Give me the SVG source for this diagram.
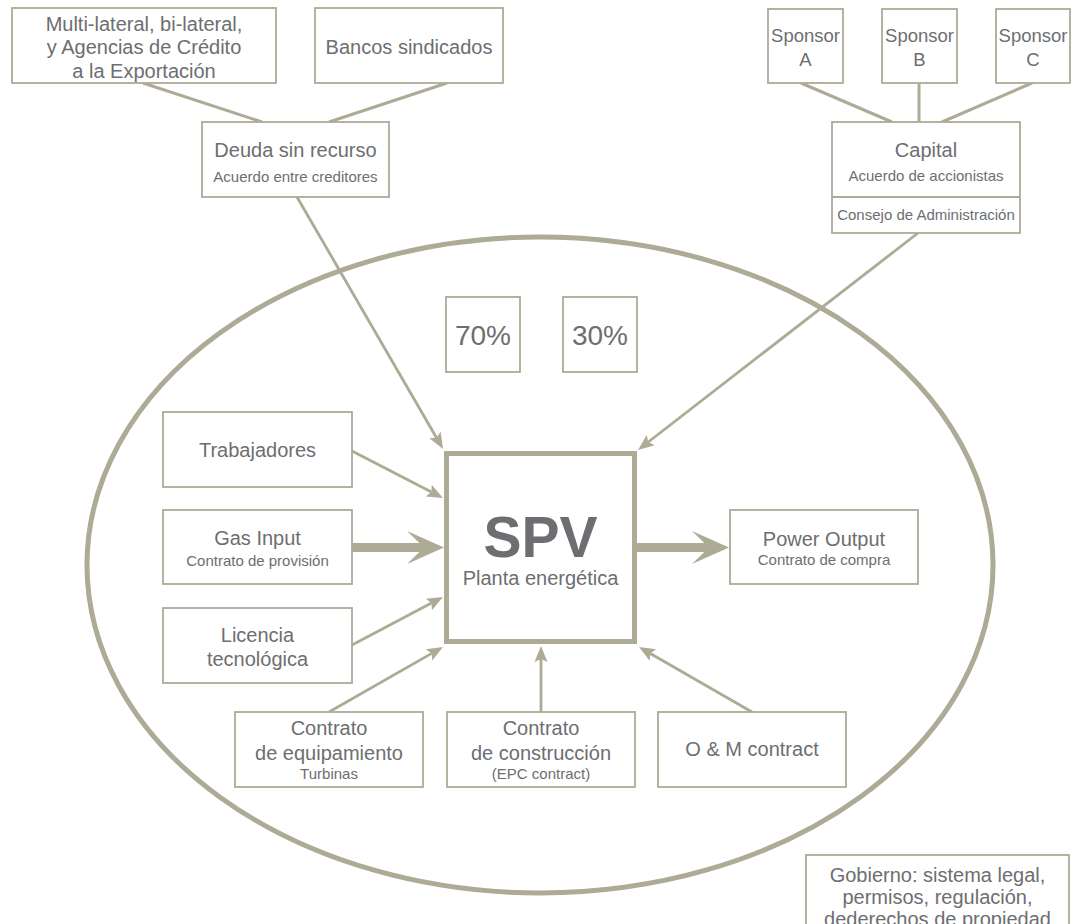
<svg xmlns="http://www.w3.org/2000/svg" width="1081" height="924" viewBox="0 0 1081 924">
<style>
.box{fill:#fff;stroke:#adaa95;stroke-width:1.8}
.t{font-family:"Liberation Sans",Arial,sans-serif;fill:#6d6e71;text-anchor:middle}
.l{font-size:20px}
.s{font-size:15px}
.sp{font-size:18.5px}
.pc{font-size:28px}
.c{stroke:#adaa95;stroke-width:2.8;fill:none}
.top{stroke:#adaa95;stroke-width:3;fill:none}
.ah{fill:#adaa95}
</style>
<defs>
<marker id="arr" markerUnits="userSpaceOnUse" viewBox="-4 -8 18 16" markerWidth="18" markerHeight="16" refX="0" refY="0" orient="auto">
<path d="M13,0 L-3,-6.5 L0,0 L-3,6.5 Z" fill="#adaa95"/>
</marker>
</defs>
<rect width="1081" height="924" fill="#fff"/>
<ellipse id="ellipse" cx="540" cy="565" rx="453" ry="328" fill="none" stroke="#adaa95" stroke-width="5"/>

<g id="connectors">
<line class="top" x1="143" y1="83" x2="262" y2="122"/>
<line class="top" x1="447" y1="83" x2="329" y2="122"/>
<line class="top" x1="801" y1="83" x2="892" y2="122"/>
<line class="top" x1="919" y1="83" x2="919" y2="122"/>
<line class="top" x1="1032" y1="83" x2="942" y2="122"/>
<line class="c" x1="297" y1="197" x2="436.5" y2="437.7" marker-end="url(#arr)"/>
<line class="c" x1="918" y1="233" x2="648.3" y2="442" marker-end="url(#arr)"/>
<line class="c" x1="352" y1="451" x2="431.4" y2="492" marker-end="url(#arr)"/>
<line class="c" x1="352" y1="645" x2="431.5" y2="603.1" marker-end="url(#arr)"/>
<line class="c" x1="329" y1="712" x2="431.7" y2="653.4" marker-end="url(#arr)"/>
<line class="c" x1="541" y1="712" x2="541" y2="659" marker-end="url(#arr)"/>
<line class="c" x1="752" y1="712" x2="650.3" y2="653.5" marker-end="url(#arr)"/>
<rect class="ah" x="352" y="543" width="75" height="9"/>
<path class="ah" d="M444,547.5 L407,531 L424,547.5 L407,564 Z"/>
<rect class="ah" x="637" y="543" width="75" height="9"/>
<path class="ah" d="M729,547.5 L692,531 L709,547.5 L692,564 Z"/>
</g>

<g id="multilateral">
<rect class="box" x="12" y="8" width="264" height="75"/>
<text class="t l" x="144" y="31">Multi-lateral, bi-lateral,</text>
<text class="t l" x="144" y="54">y Agencias de Crédito</text>
<text class="t l" x="144" y="78">a la Exportación</text>
</g>
<g id="bancos">
<rect class="box" x="315" y="8" width="188" height="75"/>
<text class="t l" x="409" y="54">Bancos sindicados</text>
</g>
<g id="deuda">
<rect class="box" x="202" y="122" width="187" height="75"/>
<text class="t l" x="295.5" y="157">Deuda sin recurso</text>
<text class="t s" x="295.5" y="182">Acuerdo entre creditores</text>
</g>
<g id="sponsorA">
<rect class="box" x="768" y="9" width="75" height="74"/>
<text class="t sp" x="805.5" y="42">Sponsor</text>
<text class="t sp" x="805.5" y="66">A</text>
</g>
<g id="sponsorB">
<rect class="box" x="882" y="9" width="75" height="74"/>
<text class="t sp" x="919.5" y="42">Sponsor</text>
<text class="t sp" x="919.5" y="66">B</text>
</g>
<g id="sponsorC">
<rect class="box" x="996" y="9" width="74" height="74"/>
<text class="t sp" x="1033" y="42">Sponsor</text>
<text class="t sp" x="1033" y="66">C</text>
</g>
<g id="capital">
<rect class="box" x="832" y="122" width="188" height="111"/>
<line x1="832" y1="197" x2="1020" y2="197" stroke="#adaa95" stroke-width="1.8"/>
<text class="t l" x="926" y="157">Capital</text>
<text class="t s" x="926" y="181">Acuerdo de accionistas</text>
<text class="t s" x="926" y="220">Consejo de Administración</text>
</g>
<g id="p70">
<rect class="box" x="446" y="297" width="74" height="75"/>
<text class="t pc" x="483" y="345">70%</text>
</g>
<g id="p30">
<rect class="box" x="563" y="297" width="74" height="75"/>
<text class="t pc" x="600" y="345">30%</text>
</g>
<g id="trabajadores">
<rect class="box" x="163" y="412" width="189" height="75"/>
<text class="t l" x="257.5" y="457">Trabajadores</text>
</g>
<g id="gas">
<rect class="box" x="163" y="510" width="189" height="74"/>
<text class="t l" x="257.5" y="545">Gas Input</text>
<text class="t s" x="257.5" y="566">Contrato de provisión</text>
</g>
<g id="licencia">
<rect class="box" x="163" y="608" width="189" height="75"/>
<text class="t l" x="257.5" y="642">Licencia</text>
<text class="t l" x="257.5" y="666">tecnológica</text>
</g>
<g id="spv">
<rect x="446.5" y="453.5" width="188" height="188" fill="#fff" stroke="#adaa95" stroke-width="5"/>
<text class="t" x="540.5" y="557" font-size="57" font-weight="bold">SPV</text>
<text class="t l" x="540.5" y="585">Planta energética</text>
</g>
<g id="power">
<rect class="box" x="730" y="510" width="188" height="74"/>
<text class="t l" x="824" y="546">Power Output</text>
<text class="t s" x="824" y="565">Contrato de compra</text>
</g>
<g id="equipamiento">
<rect class="box" x="235" y="712" width="188" height="75"/>
<text class="t l" x="329" y="735">Contrato</text>
<text class="t l" x="329" y="760">de equipamiento</text>
<text class="t s" x="329" y="779">Turbinas</text>
</g>
<g id="construccion">
<rect class="box" x="447" y="712" width="188" height="75"/>
<text class="t l" x="541" y="735">Contrato</text>
<text class="t l" x="541" y="760">de construcción</text>
<text class="t s" x="541" y="779">(EPC contract)</text>
</g>
<g id="om">
<rect class="box" x="658" y="712" width="188" height="75"/>
<text class="t l" x="752" y="756">O &amp; M contract</text>
</g>
<g id="gobierno">
<rect class="box" x="806" y="855" width="263" height="100"/>
<text class="t l" x="937.5" y="882">Gobierno: sistema legal,</text>
<text class="t l" x="937.5" y="904">permisos, regulación,</text>
<text class="t l" x="937.5" y="926">dederechos de propiedad</text>
</g>
</svg>
